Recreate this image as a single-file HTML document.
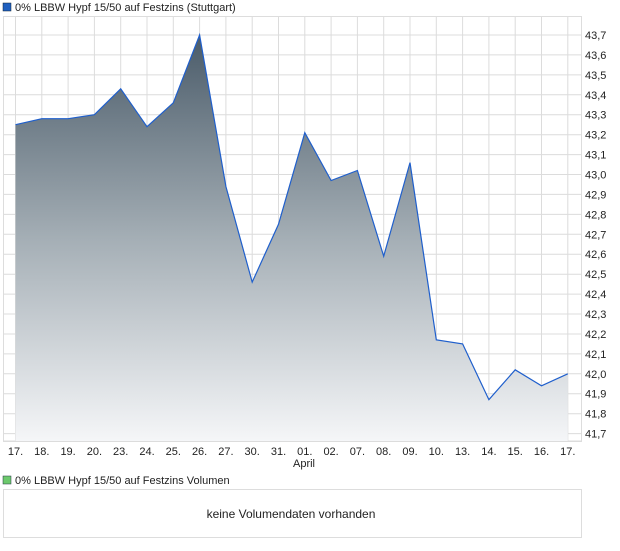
<!DOCTYPE html>
<html><head><meta charset="utf-8"><style>
body{margin:0;background:#fff;width:620px;height:546px;overflow:hidden;font-family:"Liberation Sans",sans-serif;}
</style></head><body>
<svg width="620" height="546" xmlns="http://www.w3.org/2000/svg" font-family="Liberation Sans, sans-serif" font-size="11" fill="#222">
<defs><linearGradient id="g" x1="0" y1="35" x2="0" y2="441" gradientUnits="userSpaceOnUse">
<stop offset="0" stop-color="#4a5b69"/><stop offset="0.5" stop-color="#a4aeb5"/><stop offset="1" stop-color="#f5f6f8"/></linearGradient></defs>
<rect x="3" y="3" width="8" height="8" fill="#1f5fbf" stroke="#123" stroke-width="0.5"/>
<text x="15" y="11">0% LBBW Hypf 15/50 auf Festzins (Stuttgart)</text>
<rect x="3.5" y="16.5" width="578" height="425" fill="#fff" stroke="#ddd"/>
<g id="grid" stroke="#dcdcdc"></g>
<path id="area" fill="url(#g)"/>
<path id="line" fill="none" stroke="#1f5fcc" stroke-width="1.2"/>
<g id="ylab"></g>
<g id="xlab"></g>
<text x="304" y="467" text-anchor="middle">April</text>
<rect x="3" y="476" width="8" height="8" fill="#6cc96c" stroke="#234" stroke-width="0.5"/>
<text x="15" y="484">0% LBBW Hypf 15/50 auf Festzins Volumen</text>
<rect x="3.5" y="489.5" width="578" height="48" fill="#fff" stroke="#ddd"/>
<text x="291" y="518" text-anchor="middle" font-size="12">keine Volumendaten vorhanden</text>
</svg>
<script>
var ns="http://www.w3.org/2000/svg";
var v=[43.25,43.28,43.28,43.30,43.43,43.24,43.36,43.70,42.94,42.46,42.75,43.21,42.97,43.02,42.59,43.06,42.17,42.15,41.87,42.02,41.94,42.00];
function X(i){return 15.5+i*26.3;}function Y(a){return 35+(43.7-a)*199.3;}
var g=document.getElementById('grid'),d='';
for(var i=0;i<22;i++){d+='M'+X(i).toFixed(1)+' 17V441';}
for(var k=0;k<=20;k++){var y=Y(43.7-k*0.1);d+='M4 '+y.toFixed(1)+'H581';}
d+='M4 441H581';
var p=document.createElementNS(ns,'path');p.setAttribute('d',d);g.appendChild(p);
var l='';for(var i=0;i<22;i++){l+=(i?'L':'M')+X(i).toFixed(1)+' '+Y(v[i]).toFixed(1);}
document.getElementById('line').setAttribute('d',l);
document.getElementById('area').setAttribute('d',l+'L'+X(21).toFixed(1)+' 441L'+X(0).toFixed(1)+' 441Z');
var yl=document.getElementById('ylab');
for(var k=0;k<=20;k++){var t=document.createElementNS(ns,'text');t.setAttribute('x',585);t.setAttribute('y',Y(43.7-k*0.1)+4);t.textContent=(43.7-k*0.1).toFixed(1).replace('.',',');yl.appendChild(t);}
var xs=['17.','18.','19.','20.','23.','24.','25.','26.','27.','30.','31.','01.','02.','07.','08.','09.','10.','13.','14.','15.','16.','17.'];
var xl=document.getElementById('xlab');
for(var i=0;i<22;i++){var t=document.createElementNS(ns,'text');t.setAttribute('x',X(i));t.setAttribute('y',455);t.setAttribute('text-anchor','middle');t.textContent=xs[i];xl.appendChild(t);}
</script>
</body></html>
